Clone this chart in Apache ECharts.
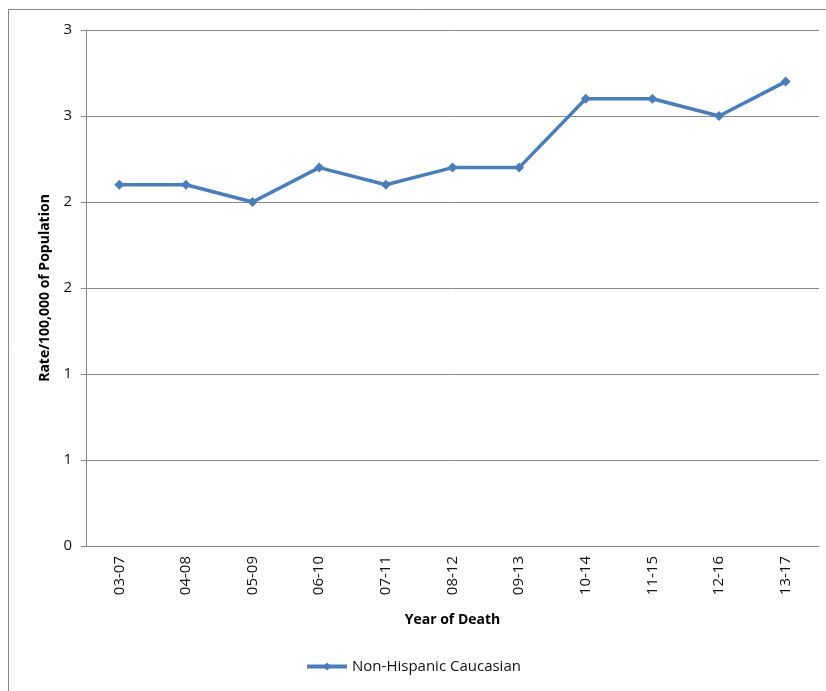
<!DOCTYPE html>
<html><head><meta charset="utf-8">
<script src="https://cdn.jsdelivr.net/npm/echarts@6/dist/echarts.min.js"></script>
<style>html,body{margin:0;padding:0;background:#fff}#c{width:826px;height:691px}</style>
</head><body><div id="c"></div>
<script>
const categories = ['03-07','04-08','05-09','06-10','07-11','08-12','09-13','10-14','11-15','12-16','13-17'];
const seriesName = 'Non-Hispanic Caucasian';
const values = [2.1, 2.1, 2.0, 2.2, 2.1, 2.2, 2.2, 2.6, 2.6, 2.5, 2.7];
const yTitle = 'Rate/100,000 of Population';
const xTitle = 'Year of Death';
const font = 'Open Sans';
const chart = echarts.init(document.getElementById('c'), null, {renderer:'canvas'});
chart.setOption({
  animation:false,
  textStyle:{fontFamily:font},
  graphic:[{type:'rect',shape:{x:8.5,y:9.5,width:900,height:800},style:{fill:'none',stroke:'#888',lineWidth:1},silent:true}],
  grid:{left:86,right:7,top:30,bottom:145},
  xAxis:{type:'category',data:categories,boundaryGap:true,
    axisLine:{lineStyle:{color:'#888',width:1}},
    axisTick:{show:false},
    axisLabel:{rotate:90,color:'#111',fontSize:15,margin:10,fontFamily:font},
    name:xTitle,nameLocation:'middle',nameGap:67,
    nameTextStyle:{fontWeight:'bold',fontSize:14,color:'#000',fontFamily:font}},
  yAxis:{type:'value',min:0,max:3,interval:0.5,
    axisLine:{show:true,lineStyle:{color:'#888',width:1}},
    axisTick:{show:true,length:5,lineStyle:{color:'#888'}},
    splitLine:{lineStyle:{color:'#888',width:1}},
    axisLabel:{color:'#111',fontSize:15,margin:14,formatter:v=>String(Math.round(v)),fontFamily:font},
    name:yTitle,nameLocation:'middle',nameGap:34,
    nameTextStyle:{fontWeight:'bold',fontSize:14,color:'#000',fontFamily:font}},
  legend:{bottom:12,left:'center',itemWidth:40,itemHeight:10,itemGap:5,
    lineStyle:{width:4},
    textStyle:{fontSize:15,color:'#111',fontFamily:font},
    data:[seriesName]},
  series:[{name:seriesName,type:'line',data:values,
    lineStyle:{color:'#4a7ebb',width:3.5},
    itemStyle:{color:'#4a7ebb'},
    symbol:'diamond',symbolSize:10,showSymbol:true}]
});
</script></body></html>
